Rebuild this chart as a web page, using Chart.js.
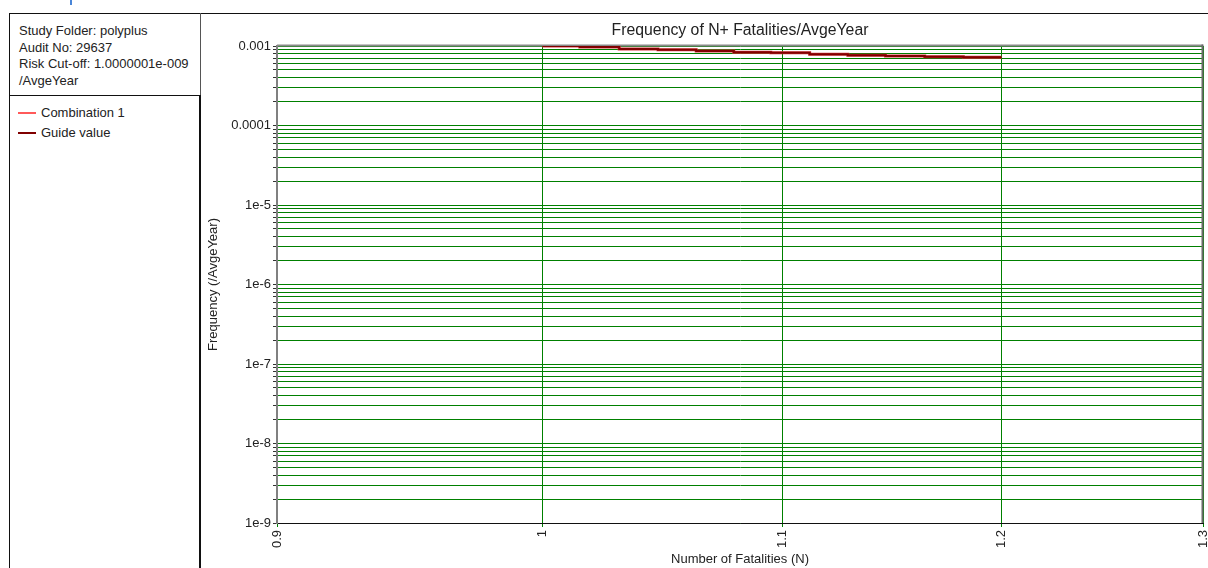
<!DOCTYPE html>
<html>
<head>
<meta charset="utf-8">
<title>Frequency of N+ Fatalities</title>
<script src="https://cdn.jsdelivr.net/npm/chart.js@4.4.1/dist/chart.umd.min.js"></script>
<style>
    body { margin: 0; width: 1208px; height: 568px; background: #fff; position: relative; overflow: hidden;
           font-family: "Liberation Sans", Arial, sans-serif; color: #222; }
    .line { position: absolute; background: #111; }
    #info { position: absolute; left: 19px; top: 23px; font-size: 13px; line-height: 16.5px; white-space: nowrap; }
    .legend-item { position: absolute; left: 18px; font-size: 13px; height: 16px; line-height: 16px; }
    .legend-item span.swatch { position: absolute; left: 0; width: 18px; }
    .legend-item span.label { position: absolute; left: 23px; white-space: nowrap; }
    #chartBox { position: absolute; left: 201px; top: 14px; }
</style>
</head>
<body>
<div class="line" style="left:70px; top:0; width:2px; height:5px; background:#4a86d8;"></div>
<div class="line" style="left:9px; top:13px; width:1199px; height:1px;"></div>
<div class="line" style="left:9px; top:13px; width:1px; height:555px;"></div>
<div class="line" style="left:9px; top:95px; width:191px; height:1px;"></div>
<div class="line" style="left:200px; top:13px; width:1px; height:82px; background:#555;"></div>
<div class="line" style="left:199px; top:95px; width:2px; height:473px;"></div>

<div id="info">Study Folder: polyplus<br>Audit No: 29637<br>Risk Cut-off: 1.0000001e-009<br>/AvgeYear</div>

<div class="legend-item" style="top:105px;">
    <span class="swatch" style="top:7px; height:2px; background:#ff5a5a;"></span>
    <span class="label">Combination 1</span>
</div>
<div class="legend-item" style="top:125px;">
    <span class="swatch" style="top:7px; height:2px; background:#800000;"></span>
    <span class="label">Guide value</span>
</div>

<div id="chartBox"><canvas id="fnChart" width="1007" height="554"></canvas></div>

<script>
// Chart text
const chartTitle = 'Frequency of N+ Fatalities/AvgeYear';
const xTitle = 'Number of Fatalities (N)';
const yTitle = 'Frequency (/AvgeYear)';

// Axis ticks
const xTicks = [0.9, 1, 1.1, 1.2, 1.3];
const xTickLabels = ['0.9', '1', '1.1', '1.2', '1.3'];
const yDecades = [1e-9, 1e-8, 1e-7, 1e-6, 1e-5, 1e-4, 1e-3];
const yTickLabels = ['1e-9', '1e-8', '1e-7', '1e-6', '1e-5', '0.0001', '0.001'];

// Step curve (N, frequency)
const fatalities = [1, 1.015, 1.031, 1.047, 1.063, 1.079, 1.095, 1.112, 1.129, 1.146, 1.164, 1.182, 1.2];
const combination1 = [1.0e-3, 9.71e-4, 9.17e-4, 8.98e-4, 8.65e-4, 8.33e-4, 8.23e-4, 7.87e-4, 7.64e-4, 7.48e-4, 7.33e-4, 7.2e-4, 7.2e-4];
const guideValue = [1.0e-3, 9.71e-4, 9.17e-4, 8.98e-4, 8.65e-4, 8.33e-4, 8.23e-4, 7.87e-4, 7.64e-4, 7.48e-4, 7.33e-4, 7.2e-4, 7.2e-4];

const FONT = '"Liberation Sans", Arial, sans-serif';
const GRID_GREEN = '#008000';

function toPoints(values) {
    return fatalities.map((n, i) => ({ x: n, y: values[i] }));
}

// minor log ticks 1..9 per decade
function buildYTicks() {
    const ticks = [];
    for (let d = 0; d < yDecades.length - 1; d++) {
        for (let m = 1; m <= 9; m++) ticks.push({ value: m * yDecades[d] });
    }
    ticks.push({ value: yDecades[yDecades.length - 1] });
    return ticks;
}

function yLabel(value) {
    const i = yDecades.findIndex(d => Math.abs(Math.log10(value) - Math.log10(d)) < 1e-6);
    return i >= 0 ? yTickLabels[i] : '';
}

// grey top/right frame and the chart title centred over the plot
const frameLines = {
    id: 'frameLines',
    beforeDatasetsDraw(chart) {
        const { ctx, chartArea: a } = chart;
        ctx.save();
        ctx.lineWidth = 2;
        ctx.strokeStyle = '#8a8a8a';
        ctx.beginPath();
        ctx.moveTo(a.left, a.top - 0.5);
        ctx.lineTo(a.right, a.top - 0.5);
        ctx.stroke();
        ctx.strokeStyle = '#6a6a6a';
        ctx.beginPath();
        ctx.moveTo(a.right - 0.5, a.top - 1.5);
        ctx.lineTo(a.right - 0.5, a.bottom);
        ctx.stroke();
        ctx.restore();
    },
    afterDraw(chart) {
        const { ctx, chartArea: a } = chart;
        ctx.save();
        ctx.font = '15.8px ' + FONT;
        ctx.fillStyle = '#222';
        ctx.textAlign = 'center';
        ctx.textBaseline = 'alphabetic';
        ctx.fillText(chartTitle, (a.left + a.right) / 2, 21);
        ctx.restore();
    }
};

function initChart() {
    const ctx = document.getElementById('fnChart').getContext('2d');
    new Chart(ctx, {
        type: 'line',
        data: {
            datasets: [
                {
                    label: 'Combination 1',
                    data: toPoints(combination1),
                    borderColor: '#d03838',
                    borderWidth: 3,
                    stepped: true,
                    pointRadius: 0,
                    fill: false,
                    order: 2
                },
                {
                    label: 'Guide value',
                    data: toPoints(guideValue),
                    borderColor: '#800000',
                    borderWidth: 2,
                    stepped: true,
                    pointRadius: 0,
                    fill: false,
                    order: 1
                }
            ]
        },
        options: {
            responsive: false,
            animation: false,
            layout: { padding: { top: 32, right: 5, left: 0, bottom: 0 } },
            plugins: {
                legend: { display: false },
                title: { display: false },
                tooltip: { enabled: false }
            },
            scales: {
                x: {
                    type: 'logarithmic',
                    min: 0.9,
                    max: 1.3,
                    afterBuildTicks: s => { s.ticks = xTicks.map(v => ({ value: v })); },
                    afterFit: s => { s.height = 45; s.paddingLeft = 0; s.paddingRight = 0; },
                    ticks: {
                        autoSkip: false,
                        minRotation: 90,
                        maxRotation: 90,
                        padding: 3,
                        color: '#222',
                        font: { family: FONT, size: 13 },
                        callback: v => { const i = xTicks.indexOf(v); return i >= 0 ? xTickLabels[i] : ''; }
                    },
                    grid: { color: GRID_GREEN, lineWidth: 1, tickLength: 4, tickColor: GRID_GREEN },
                    border: { color: '#111', width: 1 },
                    title: {
                        display: true,
                        text: xTitle,
                        color: '#222',
                        font: { family: FONT, size: 13 },
                        padding: { top: 0, bottom: 1 }
                    }
                },
                y: {
                    type: 'logarithmic',
                    min: 1e-9,
                    max: 1e-3,
                    afterBuildTicks: s => { s.ticks = buildYTicks(); },
                    afterFit: s => { s.width = 76; s.paddingTop = 0; s.paddingBottom = 0; },
                    ticks: {
                        autoSkip: false,
                        padding: 2,
                        color: '#222',
                        font: { family: FONT, size: 13 },
                        callback: v => yLabel(v)
                    },
                    grid: { color: GRID_GREEN, lineWidth: 1, tickLength: 4, tickColor: '#333' },
                    border: { color: '#808080', width: 2 },
                    title: {
                        display: true,
                        text: yTitle,
                        color: '#222',
                        font: { family: FONT, size: 13 },
                        padding: { top: 5, bottom: 0 }
                    }
                }
            }
        },
        plugins: [frameLines]
    });
}

window.onload = () => {
    initChart();
};
</script>
</body>
</html>
